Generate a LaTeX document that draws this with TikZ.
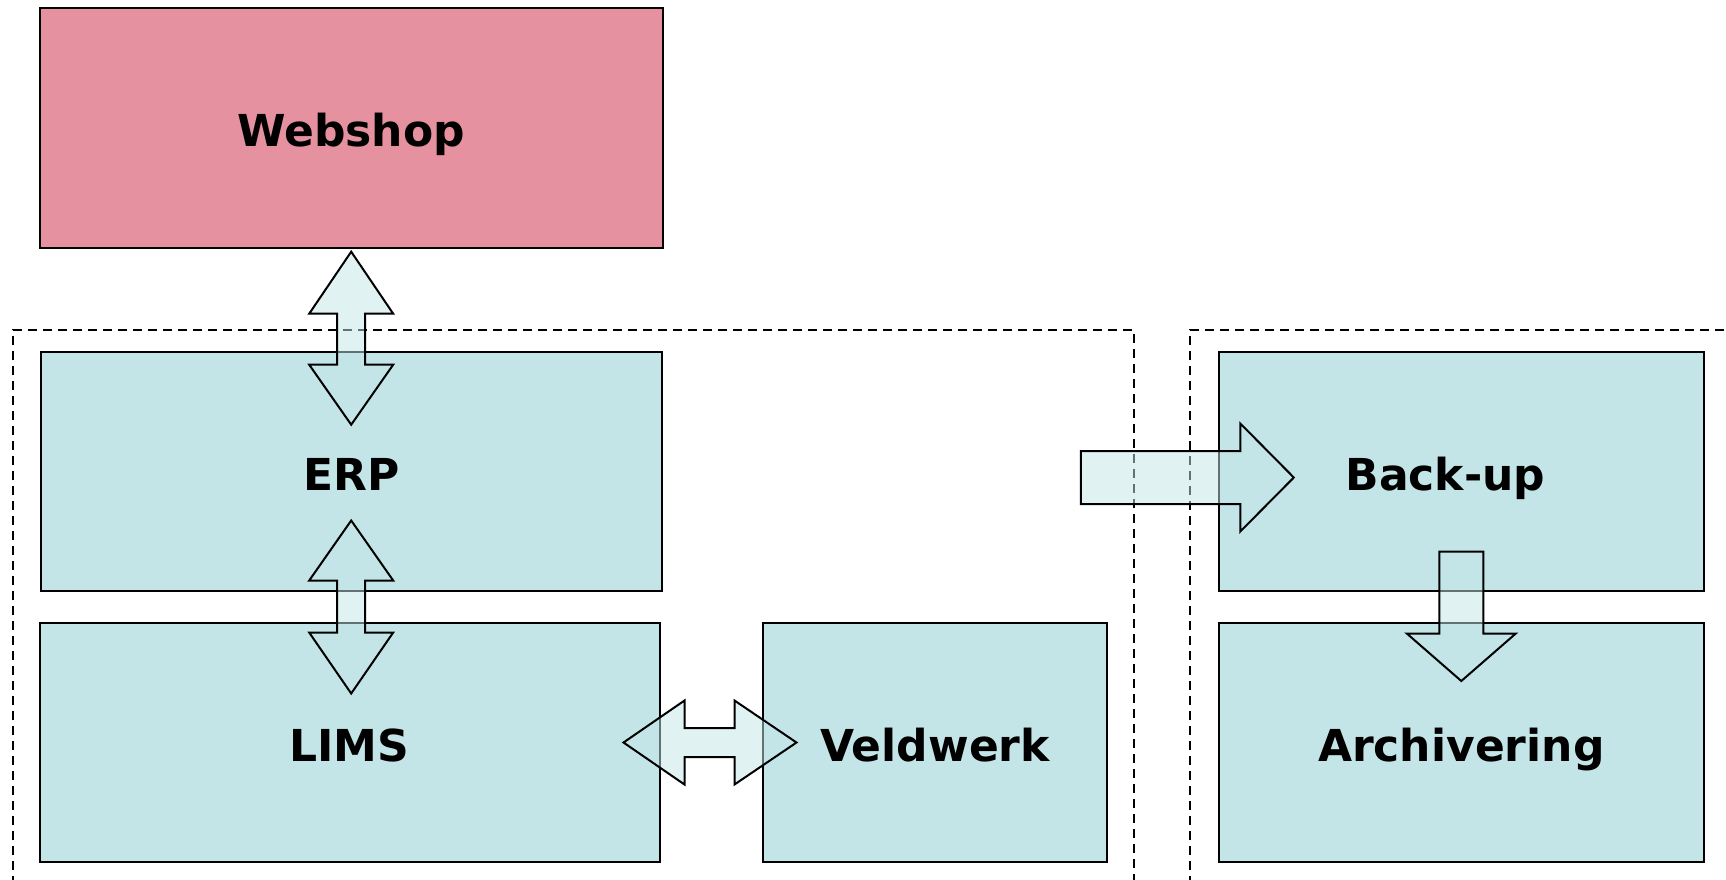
\documentclass[tikz,border=0pt]{standalone}
\usepackage{fontspec}
\setsansfont{DejaVu Sans}
\usetikzlibrary{calc}
\definecolor{ShopPink}{HTML}{E691A0}
\definecolor{SysBlue}{HTML}{C4E5E7}
\tikzset{
  every node/.style={font=\sffamily\bfseries\fontsize{44}{52}\selectfont, text=black},
  sysbox/.style={draw=black, line width=2pt, fill=SysBlue, inner sep=0pt, text height=38pt, text depth=0pt},
  shopbox/.style={sysbox, fill=ShopPink},
  zone/.style={draw=black, line width=1.6pt, dash pattern=on 9pt off 6pt},
  flow/.style={draw=black, line width=2pt, fill=SysBlue, fill opacity=0.5, draw opacity=1, line join=miter},
}

\begin{document}
\begin{tikzpicture}[x=1pt,y=-1pt]
  \useasboundingbox (0,0) rectangle (1726,879);
  \clip (0,0) rectangle (1726,879);
  % Zones (open at the bottom)
  \draw[zone] (13,900) -- (13,330) -- (1134,330) -- (1134,900);
  \draw[zone] (1190,900) -- (1190,330) -- (1740,330);
  % Systems
  \node[shopbox, minimum width=623, minimum height=240] (webshop) at (351.2,127.7) {Webshop};
  \node[sysbox, minimum width=621, minimum height=239] (erp) at (351.2,471.5) {ERP};
  \node[sysbox, minimum width=620, minimum height=239] (lims) at (349.5,742.5) {LIMS};
  \node[sysbox, minimum width=344, minimum height=239] (veldwerk) at (935,742.5) {Veldwerk};
  \node[sysbox, minimum width=485, minimum height=239] (backup) at (1461.3,471.5) {Back-up\hspace*{32pt}};
  \node[sysbox, minimum width=485, minimum height=239] (archief) at (1461.3,742.5) {Archivering};
  % Webshop <-> ERP
  \draw[flow] ($(webshop.south)+(0,3)$) -- ++(42,62) -- ++(-28,0) -- ++(0,51) -- ++(28,0)
    -- ++(-42,60) -- ++(-42,-60) -- ++(28,0) -- ++(0,-51) -- ++(-28,0) -- cycle;
  % ERP <-> LIMS
  \draw[flow] ($(erp.south)+(0,-71.5)$) -- ++(42,60) -- ++(-28,0) -- ++(0,52) -- ++(28,0)
    -- ++(-42,61) -- ++(-42,-61) -- ++(28,0) -- ++(0,-52) -- ++(-28,0) -- cycle;
  % LIMS <-> Veldwerk
  \draw[flow] ($(lims.east)+(-37,0)$) -- ++(61,-42) -- ++(0,27.5) -- ++(50,0) -- ++(0,-27.5)
    -- ++(62,42) -- ++(-62,42) -- ++(0,-27.5) -- ++(-50,0) -- ++(0,27.5) -- cycle;
  % to Back-up
  \draw[flow] ($(backup.west)+(-137,-20.5)$) -- ++(159.5,0) -- ++(0,-27.5) -- ++(53.5,54)
    -- ++(-53.5,54) -- ++(0,-27.5) -- ++(-159.5,0) -- cycle;
  % Back-up -> Archivering
  \draw[flow] ($(backup.south)+(-22,-40.5)$) -- ++(44,0) -- ++(0,82) -- ++(32.5,0)
    -- ++(-54.5,47.5) -- ++(-54.5,-47.5) -- ++(32.5,0) -- cycle;
\end{tikzpicture}
\end{document}
